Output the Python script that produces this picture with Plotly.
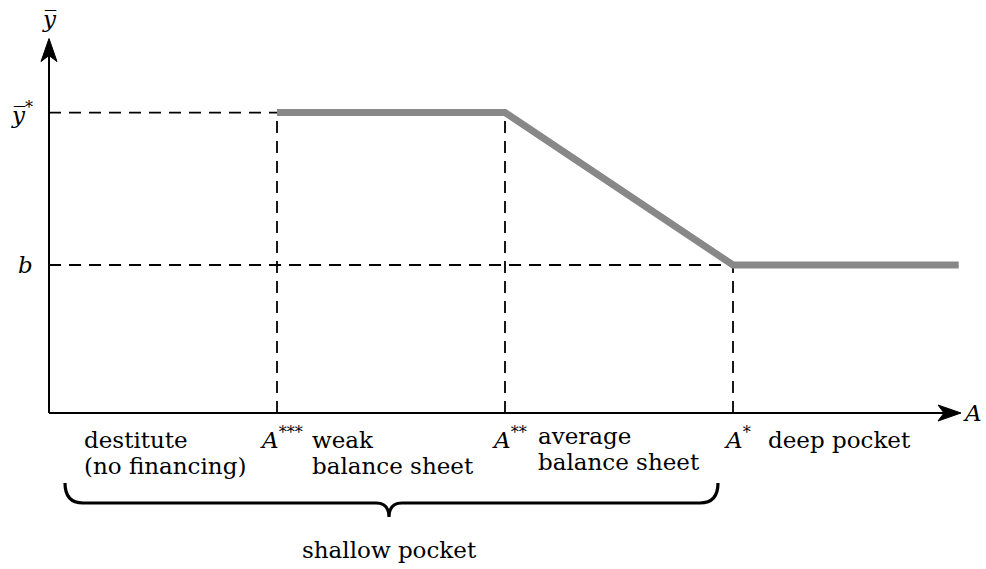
import plotly.graph_objects as go

# ---------------- data ----------------
A_ticks = [1.0, 2.0, 3.0]                      # A***, A**, A*
A_tick_labels = ["<i>A</i><sup>***</sup>", "<i>A</i><sup>**</sup>", "<i>A</i><sup>*</sup>"]
A_max = 4.0                                     # end of A axis
y_star = 2.03                                   # ybar*
b_val = 1.0                                     # b
y_axis_top = 2.53
y_tick_vals = [2.03, 1.0]
y_tick_labels = ["<i>y\u0305</i><sup>*</sup>", "<i>b</i>"]
curve_A = [1.0, 2.0, 3.0, 3.99]
curve_y = [2.03, 2.03, 1.0, 1.0]
region_starts = [0.0, 1.0, 2.0, 3.0]
region_lines = [["destitute", "(no financing)"],
                ["weak", "balance sheet"],
                ["average", "balance sheet"],
                ["deep pocket"]]
brace_span = [0.0, 3.0]
brace_label = "shallow pocket"

# ---------------- layout geometry ----------------
W, H = 986, 569
OX, OY = 49, 413          # pixel position of origin
SX, SY = 228.0, 148.0     # pixels per data unit
def dx(p): return p / SX
def dy(p): return p / SY

FONT = "DejaVu Serif"
FS = 23

fig = go.Figure()

# dashed guide lines
dash = dict(color="black", width=1.8, dash="12px,8px")
fig.add_trace(go.Scatter(x=[0, A_ticks[0]], y=[y_star, y_star], mode="lines", line=dash, hoverinfo="skip"))
fig.add_trace(go.Scatter(x=[0, A_ticks[2]], y=[b_val, b_val], mode="lines", line=dash, hoverinfo="skip"))
for a, yv in zip(A_ticks, [y_star, y_star, b_val]):
    fig.add_trace(go.Scatter(x=[a, a], y=[0, yv], mode="lines", line=dash, hoverinfo="skip"))

# thick gray curve
fig.add_trace(go.Scatter(x=curve_A, y=curve_y, mode="lines",
                         line=dict(color="#888888", width=7), hoverinfo="skip"))

# axes
axis_line = dict(color="black", width=2)
fig.add_trace(go.Scatter(x=[0, A_max - dx(10)], y=[0, 0], mode="lines", line=axis_line, hoverinfo="skip"))
fig.add_trace(go.Scatter(x=[0, 0], y=[0, y_axis_top - dy(10)], mode="lines", line=axis_line, hoverinfo="skip"))

shapes = []
# arrowheads (stealth style)
L, Wd, N = 23, 8, 6
tx, ty = A_max, 0
shapes.append(dict(type="path", xref="x", yref="y", fillcolor="black", line=dict(color="black", width=1),
                   path=f"M{tx},{ty} L{tx-dx(L)},{ty+dy(Wd)} L{tx-dx(L-N)},{ty} L{tx-dx(L)},{ty-dy(Wd)} Z"))
tx, ty = 0, y_axis_top
shapes.append(dict(type="path", xref="x", yref="y", fillcolor="black", line=dict(color="black", width=1),
                   path=f"M{tx},{ty} L{tx+dx(Wd)},{ty-dy(L)} L{tx},{ty-dy(L-N)} L{tx-dx(Wd)},{ty-dy(L)} Z"))

# brace
xl = brace_span[0] + dx(16)
xr = brace_span[1] - dx(15)
xc = (brace_span[0] + brace_span[1]) / 2 - dx(2)
yt = -dy(70)
yh = -dy(90)
yp = -dy(104)
r = dx(18)
rc = dx(13)
brace_path = (f"M{xl},{yt} Q{xl},{yh} {xl+r},{yh} L{xc-rc},{yh} "
              f"Q{xc},{yh} {xc},{yp} Q{xc},{yh} {xc+rc},{yh} "
              f"L{xr-r},{yh} Q{xr},{yh} {xr},{yt}")
shapes.append(dict(type="path", xref="x", yref="y", path=brace_path,
                   line=dict(color="black", width=3.2)))

ann = []
def txt(x, y, s, xa="center", ya="middle", size=FS):
    ann.append(dict(x=x, y=y, xref="x", yref="y", text=s, showarrow=False,
                    xanchor=xa, yanchor=ya, font=dict(family=FONT, size=size, color="black")))

# A tick labels
for a, lab in zip(A_ticks, A_tick_labels):
    txt(a + dx(4), -dy(25), lab)
# y labels
txt(-dx(14), y_tick_vals[0], y_tick_labels[0], xa="right")
txt(-dx(14), y_tick_vals[1], y_tick_labels[1], xa="right")
# axis titles
txt(0, y_axis_top + dy(20), "<i>y\u0305</i>")
txt(A_max + dx(11), 0, "<i>A</i>")

# region labels
line_gap = dy(26)
for i, (s0, lines) in enumerate(zip(region_starts, region_lines)):
    y0 = -dy(27) + (dy(4) if i == 2 else 0)
    for j, ln in enumerate(lines):
        txt(s0 + dx(33) - (dx(2) if i == 2 else 0), y0 - j * line_gap, ln, xa="left")

# brace label
txt(xc, -dy(137), brace_label)

fig.update_layout(
    width=W, height=H, margin=dict(l=0, r=0, t=0, b=0),
    paper_bgcolor="white", plot_bgcolor="white", showlegend=False,
    xaxis=dict(range=[-OX / SX, (W - OX) / SX], visible=False, fixedrange=True),
    yaxis=dict(range=[-(H - OY) / SY, OY / SY], visible=False, fixedrange=True),
    shapes=shapes, annotations=ann,
)
fig.write_html("out.html", config={"displayModeBar": False},
               post_script="document.body.style.margin='0';document.body.style.overflow='hidden';")
